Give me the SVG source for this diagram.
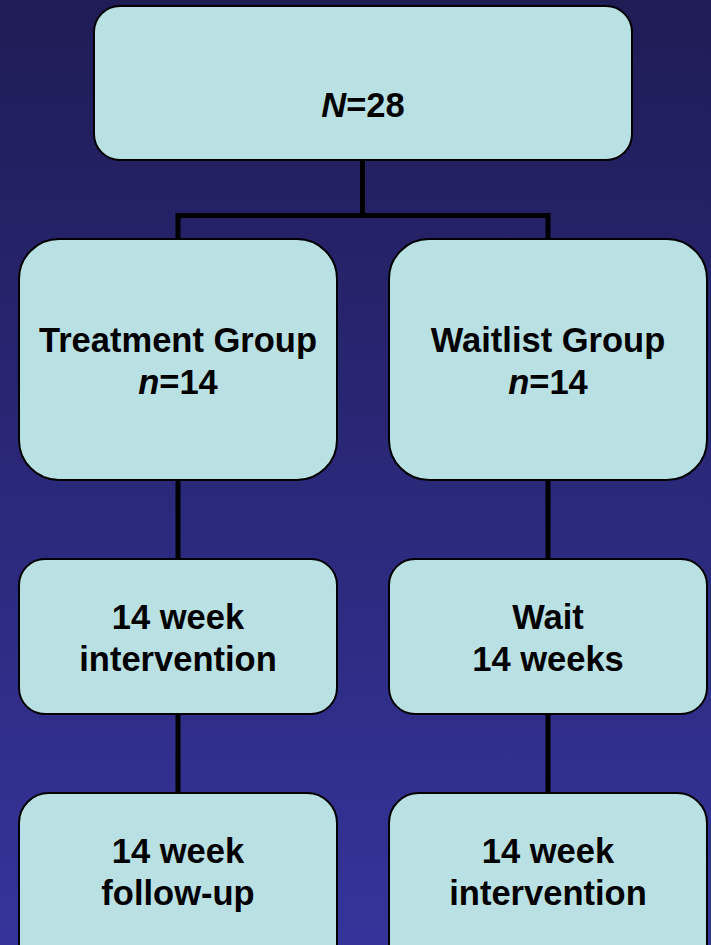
<svg xmlns="http://www.w3.org/2000/svg" width="711" height="945" viewBox="0 0 711 945">
<defs>
<linearGradient id="bg" x1="0" y1="0" x2="0" y2="1">
<stop offset="0" stop-color="#1f1c56"/>
<stop offset="1" stop-color="#35349a"/>
</linearGradient>
<style>
.box{fill:#b9e0e3;stroke:#000;stroke-width:2}
.t{font-family:"Liberation Sans",Arial,sans-serif;font-weight:bold;font-size:34.5px;fill:#000;text-anchor:middle}
.c{stroke:#000;stroke-width:5;fill:none}
</style>
</defs>
<rect x="0" y="0" width="711" height="945" fill="url(#bg)"/>
<g id="connectors">
<path class="c" d="M362.5 160 V215.5 M178 240 V215.5 H548 V240"/>
<path class="c" d="M178 480 V560 M548 480 V560"/>
<path class="c" d="M178 715 V794 M548 715 V794"/>
</g>
<g id="n-total">
<rect class="box" x="94" y="6" width="538" height="154" rx="26"/>
<text class="t" x="363" y="117"><tspan font-style="italic">N</tspan>=28</text>
</g>
<g id="n-treatment">
<rect class="box" x="19" y="239" width="318" height="241" rx="40"/>
<text class="t" x="178" y="352">Treatment Group</text>
<text class="t" x="178" y="394"><tspan font-style="italic">n</tspan>=14</text>
</g>
<g id="n-waitlist">
<rect class="box" x="389" y="239" width="318" height="241" rx="40"/>
<text class="t" x="548" y="352">Waitlist Group</text>
<text class="t" x="548" y="394"><tspan font-style="italic">n</tspan>=14</text>
</g>
<g id="n-intervention1">
<rect class="box" x="19" y="559" width="318" height="155" rx="26"/>
<text class="t" x="178" y="629">14 week</text>
<text class="t" x="178" y="671">intervention</text>
</g>
<g id="n-wait">
<rect class="box" x="389" y="559" width="318" height="155" rx="26"/>
<text class="t" x="548" y="629">Wait</text>
<text class="t" x="548" y="671">14 weeks</text>
</g>
<g id="n-followup">
<rect class="box" x="19" y="793" width="318" height="200" rx="30"/>
<text class="t" x="178" y="863">14 week</text>
<text class="t" x="178" y="905">follow-up</text>
</g>
<g id="n-intervention2">
<rect class="box" x="389" y="793" width="318" height="200" rx="30"/>
<text class="t" x="548" y="863">14 week</text>
<text class="t" x="548" y="905">intervention</text>
</g>
</svg>
